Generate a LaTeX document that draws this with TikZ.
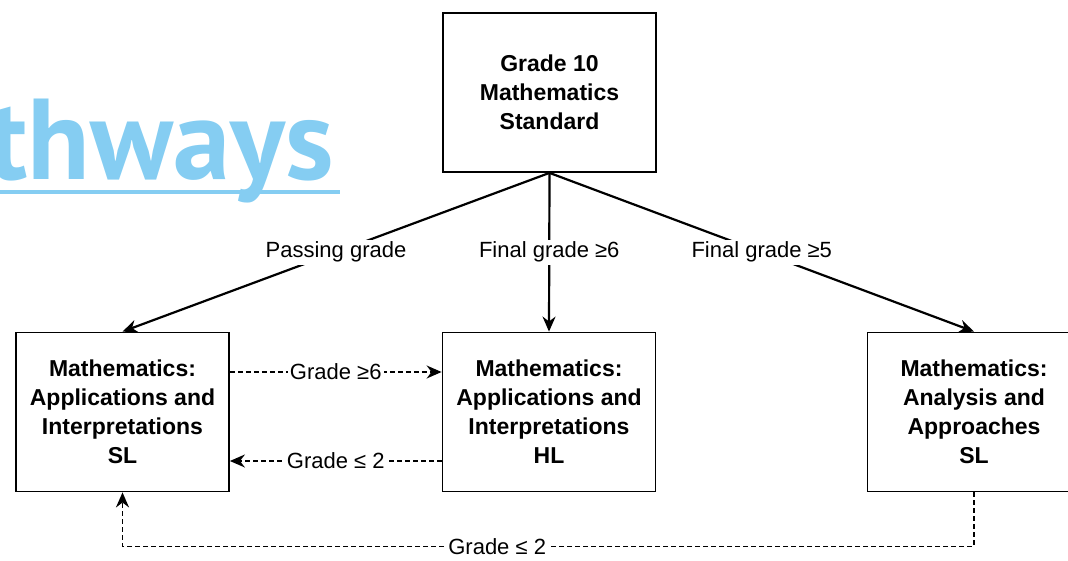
\documentclass[tikz,border=0pt]{standalone}
\usepackage{fontspec}
\setmainfont{Liberation Sans}
\newfontfamily\titlefont{PT Sans}
\usetikzlibrary{arrows.meta}
\definecolor{titleblue}{RGB}{133,205,242}

\begin{document}
\begin{tikzpicture}[x=1pt,y=-1pt,
  box/.style={draw,line width=1.8pt,minimum width=213pt,minimum height=159pt,
    align=center,font=\fontsize{23}{29}\selectfont\bfseries},
  lbl/.style={fill=white,inner sep=2pt,font=\fontsize{22}{26}\selectfont},
  flow/.style={line width=2.2pt,-{Stealth[length=15pt,width=13pt]}},
  back/.style={line width=1.6pt,dash pattern=on 5pt off 3pt,-{Stealth[length=15pt,width=13pt]}}]
  \useasboundingbox (0,0) rectangle (1068,561);
  \clip (0,0) rectangle (1068,561);

  % Title, cut at the left edge
  \node[anchor=base east,text=titleblue,inner sep=0,
    font=\titlefont\bfseries\fontsize{115}{125}\selectfont] (title) at (334,180) {Pathways};
  \draw[titleblue,line width=4pt] (0,192) -- (340,192);

  % Courses
  \node[box] (std)  at (549.5,92.5) {Grade 10\\Mathematics\\Standard};
  \node[box] (aisl) at (122.5,412) {Mathematics:\\Applications and\\Interpretations\\SL};
  \node[box] (aihl) at (549,412) {Mathematics:\\Applications and\\Interpretations\\HL};
  \node[box] (aasl) at (974,412) {Mathematics:\\Analysis and\\Approaches\\SL};

  % From grade 10
  \draw[flow] (std.south) -- node[lbl] {Passing grade} (aisl.north);
  \draw[flow] (std.south) -- node[lbl] {Final grade ≥6} (aihl.north);
  \draw[flow] (std.south) -- node[lbl] {Final grade ≥5} (aasl.north);

  % Moving between levels
  \draw[back] ([yshift=40pt]aisl.east) -- node[lbl] {Grade ≥6} ([yshift=40pt]aihl.west);
  \draw[back] ([yshift=-49pt]aihl.west) -- node[lbl] {Grade ≤ 2} ([yshift=-49pt]aisl.east);
  \draw[back] (aasl.south) -- ++(0,54) -| node[lbl,pos=0.28] {Grade ≤ 2} (aisl.south);
\end{tikzpicture}
\end{document}
